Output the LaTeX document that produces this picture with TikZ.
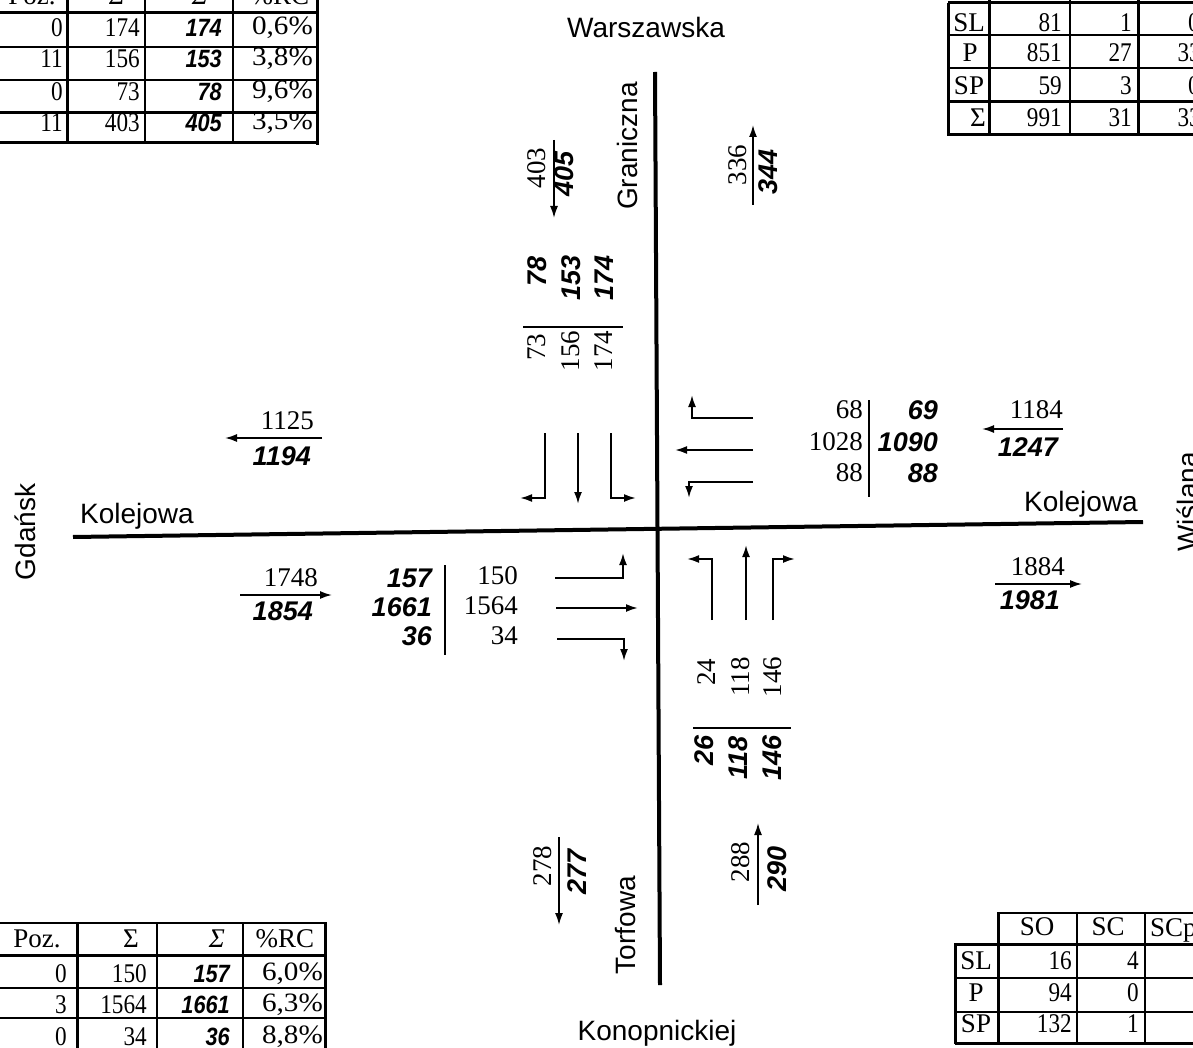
\documentclass[tikz,border=0pt]{standalone}
\usepackage{fontspec}
\setmainfont{Liberation Serif}
\newfontfamily\arialf{Liberation Sans}
\newfontfamily\tserif[FakeStretch=0.86]{Liberation Serif}
\newfontfamily\tpct[FakeStretch=1.1]{Liberation Serif}
\newfontfamily\tsans[FakeStretch=0.87]{Liberation Sans}
\usetikzlibrary{arrows.meta}
\tikzset{
  road/.style={line width=4pt},
  flow/.style={line width=1.7pt,-{Latex[length=12pt,width=8pt]}},
  lane/.style={line width=2pt,-{Latex[length=12pt,width=8pt]}},
  sepbar/.style={line width=1.6pt},
  street/.style={font=\arialf\fontsize{28}{30}\selectfont,inner sep=0pt},
  tn/.style={font=\fontsize{27}{29}\selectfont,inner sep=0pt},
  bn/.style={font=\arialf\bfseries\itshape\fontsize{27}{29}\selectfont,inner sep=0pt},
  tt/.style={font=\tserif\fontsize{27}{29}\selectfont,inner sep=0pt},
  tp/.style={font=\tpct\fontsize{26.5}{29}\selectfont,inner sep=0pt},
  tl/.style={font=\fontsize{27}{29}\selectfont,inner sep=0pt},
  tli/.style={font=\itshape\fontsize{27}{29}\selectfont,inner sep=0pt},
  tb/.style={font=\tsans\bfseries\itshape\fontsize{25}{28}\selectfont,inner sep=0pt},
  gthin/.style={line width=1.3pt},
  gmed/.style={line width=2pt},
  gthick/.style={line width=3pt},
}
\begin{document}
\begin{tikzpicture}[x=1pt,y=-1pt]
\useasboundingbox (0,0) rectangle (1193,1048);
\fill[white] (0,0) rectangle (1193,1048);

% ---------- roads ----------
\coordinate (rW) at (73,537);
\coordinate (rE) at (1143,522);
\coordinate (rN) at (655,72);
\coordinate (rS) at (660,985);
\draw[road] (rW) -- (rE);
\draw[road] (rN) -- (rS);

% ---------- street names ----------
\node[street,anchor=base] (warsz) at (646,38) {Warszawska};
\node[street,anchor=base] (konop) at (657,1040) {Konopnickiej};
\node[street,anchor=base,rotate=90] (granic) at (637,146) {Graniczna};
\node[street,anchor=base,rotate=90] (torf) at (635,925) {Torfowa};
\node[street,anchor=base,rotate=90] (gdansk) at (35,532) {Gdańsk};
\node[street,anchor=base,rotate=90] (wisl) at (1197,502) {Wiślana};
\node[street,anchor=base] (kolW) at (137,523) {Kolejowa};
\node[street,anchor=base] (kolE) at (1081,511) {Kolejowa};

% ---------- west: outgoing / incoming ----------
\coordinate (wo1) at (322,438); \coordinate (wo2) at (225,438);
\draw[flow] (wo1) -- (wo2);
\node[tn,anchor=east] (n1125) at (314,421) {1125};
\node[bn,anchor=east] (n1194) at (311,456) {1194};
\coordinate (wi1) at (240,595); \coordinate (wi2) at (332,595);
\draw[flow] (wi1) -- (wi2);
\node[tn,anchor=east] (n1748) at (318,578) {1748};
\node[bn,anchor=east] (n1854) at (313,611) {1854};

% ---------- west approach ----------
\node[bn,anchor=east] (w157) at (432,578) {157};
\node[bn,anchor=east] (w1661) at (432,607) {1661};
\node[bn,anchor=east] (w36) at (432,636) {36};
\coordinate (wbar1) at (445,565); \coordinate (wbar2) at (445,655);
\draw[sepbar] (wbar1) -- (wbar2);
\node[tn,anchor=east] (w150) at (518,576) {150};
\node[tn,anchor=east] (w1564) at (518,606) {1564};
\node[tn,anchor=east] (w34) at (518,636) {34};
\coordinate (wl1a) at (555,578); \coordinate (wl1b) at (623,578); \coordinate (wl1c) at (623,553);
\coordinate (wl2a) at (556,608); \coordinate (wl2b) at (638,608);
\coordinate (wl3a) at (557,639); \coordinate (wl3b) at (624,639); \coordinate (wl3c) at (624,661);
\draw[lane] (wl1a) -- (wl1b) -- (wl1c);
\draw[lane] (wl2a) -- (wl2b);
\draw[lane] (wl3a) -- (wl3b) -- (wl3c);

% ---------- north approach ----------
\coordinate (nl1a) at (545,433); \coordinate (nl1b) at (545,498); \coordinate (nl1c) at (520,498);
\coordinate (nl2a) at (578,433); \coordinate (nl2b) at (578,504);
\coordinate (nl3a) at (611,433); \coordinate (nl3b) at (611,498); \coordinate (nl3c) at (636,498);
\draw[lane] (nl1a) -- (nl1b) -- (nl1c);
\draw[lane] (nl2a) -- (nl2b);
\draw[lane] (nl3a) -- (nl3b) -- (nl3c);
\node[tn,rotate=90] (n73) at (537,347) {73};
\node[tn,rotate=90] (n156) at (571,351) {156};
\node[tn,rotate=90] (n174) at (604,351) {174};
\coordinate (nbar1) at (523,327); \coordinate (nbar2) at (623,327);
\draw[sepbar] (nbar1) -- (nbar2);
\node[bn,rotate=90] (n78) at (537,271) {78};
\node[bn,rotate=90] (n153) at (571,278) {153};
\node[bn,rotate=90] (n174b) at (604,278) {174};
% north outgoing / incoming
\coordinate (no1) at (554,140); \coordinate (no2) at (554,218);
\draw[flow] (no1) -- (no2);
\node[tn,rotate=90] (n403) at (537,168) {403};
\node[bn,rotate=90] (n405) at (564,174) {405};
\coordinate (ni1) at (753,205); \coordinate (ni2) at (753,125);
\draw[flow] (ni1) -- (ni2);
\node[tn,rotate=90] (n336) at (738,165) {336};
\node[bn,rotate=90] (n344) at (768,172) {344};

% ---------- east approach ----------
\coordinate (el1a) at (753,418); \coordinate (el1b) at (692,418); \coordinate (el1c) at (692,395);
\coordinate (el2a) at (753,450); \coordinate (el2b) at (675,450);
\coordinate (el3a) at (753,482); \coordinate (el3b) at (689,482); \coordinate (el3c) at (689,498);
\draw[lane] (el1a) -- (el1b) -- (el1c);
\draw[lane] (el2a) -- (el2b);
\draw[lane] (el3a) -- (el3b) -- (el3c);
\node[tn,anchor=east] (e68) at (863,410) {68};
\node[tn,anchor=east] (e1028) at (863,442) {1028};
\node[tn,anchor=east] (e88) at (863,473) {88};
\coordinate (ebar1) at (869,400); \coordinate (ebar2) at (869,497);
\draw[sepbar] (ebar1) -- (ebar2);
\node[bn,anchor=east] (e69) at (938,410) {69};
\node[bn,anchor=east] (e1090) at (938,442) {1090};
\node[bn,anchor=east] (e88b) at (938,473) {88};
% east incoming / outgoing
\coordinate (ei1) at (1063,429); \coordinate (ei2) at (982,429);
\draw[flow] (ei1) -- (ei2);
\node[tn,anchor=east] (n1184) at (1063,410) {1184};
\node[bn,anchor=east] (n1247) at (1058,447) {1247};
\coordinate (eo1) at (995,584); \coordinate (eo2) at (1082,584);
\draw[flow] (eo1) -- (eo2);
\node[tn,anchor=east] (n1884) at (1065,567) {1884};
\node[bn,anchor=east] (n1981) at (1060,600) {1981};

% ---------- south approach ----------
\coordinate (sl1a) at (712,620); \coordinate (sl1b) at (712,559); \coordinate (sl1c) at (687,559);
\coordinate (sl2a) at (746,620); \coordinate (sl2b) at (746,545);
\coordinate (sl3a) at (773,620); \coordinate (sl3b) at (773,559); \coordinate (sl3c) at (795,559);
\draw[lane] (sl1a) -- (sl1b) -- (sl1c);
\draw[lane] (sl2a) -- (sl2b);
\draw[lane] (sl3a) -- (sl3b) -- (sl3c);
\node[tn,rotate=90] (s24) at (707,672) {24};
\node[tn,rotate=90] (s118) at (741,677) {118};
\node[tn,rotate=90] (s146) at (773,677) {146};
\coordinate (sbar1) at (693,728); \coordinate (sbar2) at (791,728);
\draw[sepbar] (sbar1) -- (sbar2);
\node[bn,rotate=90] (s26) at (704,750) {26};
\node[bn,rotate=90] (s118b) at (738,758) {118};
\node[bn,rotate=90] (s146b) at (772,758) {146};
% south outgoing / incoming
\coordinate (si1) at (758,905); \coordinate (si2) at (758,823);
\draw[flow] (si1) -- (si2);
\node[tn,rotate=90] (n288) at (741,862) {288};
\node[bn,rotate=90] (n290) at (777,869) {290};
\coordinate (so1) at (559,837); \coordinate (so2) at (559,925);
\draw[flow] (so1) -- (so2);
\node[tn,rotate=90] (n278) at (543,866) {278};
\node[bn,rotate=90] (n277) at (577,872) {277};

% ---------- table top-left ----------
\draw[gthick] (-10,13) -- (317,13);
\draw[gmed] (-10,47) -- (317,47);
\draw[gthin] (-10,80) -- (317,80);
\draw[gthick] (-10,113) -- (317,113);
\draw[gthick] (-10,143) -- (317,143);
\draw[gthick] (67,-20) -- (67,143);
\draw[gmed] (145,-20) -- (145,143);
\draw[gmed] (233,-20) -- (233,143);
\draw[gthick] (317,-20) -- (317,145);
\node[tl] (tlh1) at (32,-4) {Poz.};
\node[tl] (tlh2) at (116,-4) {Σ};
\node[tli] (tlh3) at (200,-4) {Σ};
\node[tl] (tlh4) at (280,-4) {\%RC};
\node[tt,anchor=east] (tl11) at (63,28) {0};
\node[tt,anchor=east] (tl12) at (140,28) {174};
\node[tb,anchor=east] (tl13) at (222,28) {174};
\node[tp,anchor=east] (tl14) at (313,28) {0,6\%};
\node[tt,anchor=east] (tl21) at (63,59) {11};
\node[tt,anchor=east] (tl22) at (140,59) {156};
\node[tb,anchor=east] (tl23) at (222,59) {153};
\node[tp,anchor=east] (tl24) at (313,59) {3,8\%};
\node[tt,anchor=east] (tl31) at (63,92) {0};
\node[tt,anchor=east] (tl32) at (140,92) {73};
\node[tb,anchor=east] (tl33) at (222,92) {78};
\node[tp,anchor=east] (tl34) at (313,92) {9,6\%};
\node[tt,anchor=east] (tl41) at (63,123) {11};
\node[tt,anchor=east] (tl42) at (140,123) {403};
\node[tb,anchor=east] (tl43) at (222,123) {405};
\node[tp,anchor=east] (tl44) at (313,123) {3,5\%};

% ---------- table top-right ----------
\draw[gthick] (948,3) -- (1210,3);
\draw[gthin] (948,35) -- (1210,35);
\draw[gthin] (948,68) -- (1210,68);
\draw[gthick] (948,102) -- (1210,102);
\draw[gthick] (948,135) -- (1210,135);
\draw[gthick] (948,3) -- (948,136);
\draw[gthick] (989,-20) -- (989,136);
\draw[gmed] (1070,-20) -- (1070,136);
\draw[gthick] (1138,-20) -- (1138,136);
\node[tl] (tr11) at (969,23) {SL};
\node[tl] (tr21) at (970,53) {P};
\node[tl] (tr31) at (969,86) {SP};
\node[tl,anchor=east] (tr41) at (986,118) {Σ};
\node[tt,anchor=east] (tr12) at (1062,23) {81};
\node[tt,anchor=east] (tr13) at (1132,23) {1};
\node[tt,anchor=east] (tr14) at (1200,23) {0};
\node[tt,anchor=east] (tr22) at (1062,53) {851};
\node[tt,anchor=east] (tr23) at (1132,53) {27};
\node[tt,anchor=east] (tr24) at (1201,53) {33};
\node[tt,anchor=east] (tr32) at (1062,86) {59};
\node[tt,anchor=east] (tr33) at (1132,86) {3};
\node[tt,anchor=east] (tr34) at (1200,86) {0};
\node[tt,anchor=east] (tr42) at (1062,118) {991};
\node[tt,anchor=east] (tr43) at (1132,118) {31};
\node[tt,anchor=east] (tr44) at (1201,118) {33};

% ---------- table bottom-left ----------
\draw[gmed] (-10,923) -- (325,923);
\draw[gthick] (-10,955) -- (325,955);
\draw[gthin] (-10,988) -- (325,988);
\draw[gthin] (-10,1018) -- (325,1018);
\draw[gthick] (77,923) -- (77,1060);
\draw[gthin] (157,923) -- (157,1060);
\draw[gmed] (243,923) -- (243,1060);
\draw[gthick] (325,922) -- (325,1060);
\node[tl] (blh1) at (37,939) {Poz.};
\node[tl] (blh2) at (131,939) {Σ};
\node[tli] (blh3) at (217,939) {Σ};
\node[tl] (blh4) at (285,939) {\%RC};
\node[tt,anchor=east] (bl11) at (67,974) {0};
\node[tt,anchor=east] (bl12) at (147,974) {150};
\node[tb,anchor=east] (bl13) at (230,974) {157};
\node[tp,anchor=east] (bl14) at (323,974) {6,0\%};
\node[tt,anchor=east] (bl21) at (67,1005) {3};
\node[tt,anchor=east] (bl22) at (147,1005) {1564};
\node[tb,anchor=east] (bl23) at (230,1005) {1661};
\node[tp,anchor=east] (bl24) at (323,1005) {6,3\%};
\node[tt,anchor=east] (bl31) at (67,1037) {0};
\node[tt,anchor=east] (bl32) at (147,1037) {34};
\node[tb,anchor=east] (bl33) at (230,1037) {36};
\node[tp,anchor=east] (bl34) at (323,1037) {8,8\%};

% ---------- table bottom-right ----------
\draw[gmed] (998,913) -- (1210,913);
\draw[gthick] (955,944) -- (1210,944);
\draw[gthin] (955,978) -- (1210,978);
\draw[gthin] (955,1012) -- (1210,1012);
\draw[gthick] (955,1043) -- (1210,1043);
\draw[gthick] (955,943) -- (955,1044);
\draw[gthick] (998,912) -- (998,1044);
\draw[gmed] (1077,913) -- (1077,1044);
\draw[gmed] (1145,913) -- (1145,1044);
\node[tl] (brh1) at (1037,927) {SO};
\node[tl] (brh2) at (1108,927) {SC};
\node[tl,anchor=base west] (brh3) at (1150,936) {SCp};
\node[tl] (br11) at (976,961) {SL};
\node[tl] (br21) at (976,993) {P};
\node[tl] (br31) at (976,1024) {SP};
\node[tt,anchor=east] (br12) at (1072,961) {16};
\node[tt,anchor=east] (br13) at (1139,961) {4};
\node[tt,anchor=east] (br22) at (1072,993) {94};
\node[tt,anchor=east] (br23) at (1139,993) {0};
\node[tt,anchor=east] (br32) at (1072,1024) {132};
\node[tt,anchor=east] (br33) at (1139,1024) {1};
\end{tikzpicture}
\end{document}
